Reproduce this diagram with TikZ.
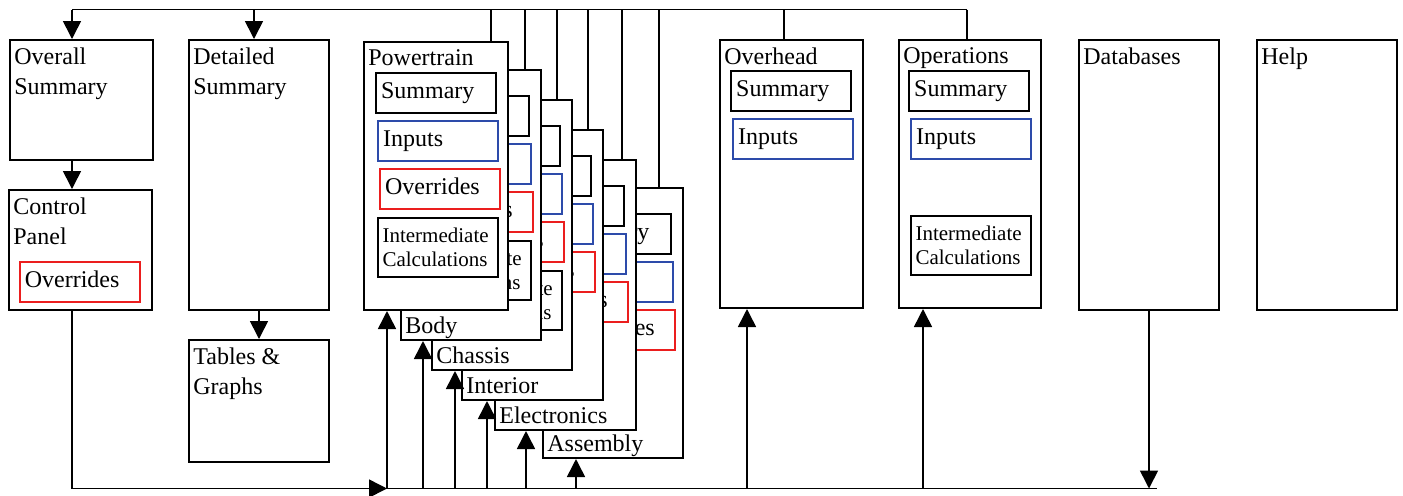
\documentclass[tikz,border=0pt]{standalone}
\usepackage{fontspec}
\setmainfont{Liberation Serif}
\usetikzlibrary{arrows.meta}
\definecolor{inblue}{RGB}{45,75,170}
\definecolor{ovred}{RGB}{235,30,30}
\tikzset{
  card/.style={draw, line width=1pt, fill=white, anchor=north west, inner sep=0pt, minimum height=135pt},
  ttl/.style={anchor=north west, align=left, inner xsep=2.5pt, inner ysep=4.3pt, font=\fontsize{12}{15}\selectfont},
  pbox/.style={draw, fill=white, line width=0.85pt, anchor=north east, text width=55pt, inner xsep=2.5pt, align=left},
  part/.style={pbox, minimum height=20pt, text height=8.5pt, text depth=2.7pt, font=\fontsize{12}{15}\selectfont},
  calcbox/.style={pbox, minimum height=29.5pt, inner xsep=2.2pt, text width=55.6pt, font=\fontsize{10.5}{12.3}\selectfont},
  flow/.style={line width=0.8pt, -{Triangle[width=9pt,length=9pt]}},
  wire/.style={line width=0.8pt}
}

\begin{document}
\begin{tikzpicture}[x=0.5pt,y=-0.5pt]
\useasboundingbox (0,0) rectangle (1403,495);

% summaries on the left
\node[card, minimum width=71.5pt, minimum height=60pt] (ovs) at (9,39) {};
\node[ttl] (ovs-t) at (ovs.north west) {Overall\\Summary};
\node[card, minimum width=71.5pt, minimum height=60pt] (ctl) at (8,189) {};
\node[ttl] (ctl-t) at (ctl.north west) {Control\\Panel};
\node[part, draw=ovred, anchor=north west] (ctl-ovr) at ([xshift=5.5pt,yshift=-36pt]ctl.north west) {Overrides};
\node[card, minimum width=70pt] (dts) at (188,39) {};
\node[ttl] (dts-t) at (dts.north west) {Detailed\\Summary};
\node[card, minimum width=70pt, minimum height=61pt] (tbl) at (188,339) {};
\node[ttl] (tbl-t) at (tbl.north west) {Tables \&\\Graphs};

% stacked system cards, back to front
\foreach \cn/\ct/\cx/\cy/\cw/\sx/\fx/\ci in {asm/Assembly/542/187/70/659/576/0,
    ele/Electronics/494/159/70.5/622/526/0, int/Interior/461/129/70.5/588/487/0,
    cha/Chassis/431/99/70/557/455/1, bod/Body/400/69/70/525/423/1}{
  \node[card, minimum width=\cw pt] (\cn) at (\cx,\cy) {};
  \node[part] (\cn-sum) at ([xshift=-6pt,yshift=-13pt]\cn.north east) {Summary};
  \node[part, draw=inblue] (\cn-inp) at ([xshift=-5pt,yshift=-37pt]\cn.north east) {Inputs};
  \node[part, draw=ovred] (\cn-ovr) at ([xshift=-4pt,yshift=-61pt]\cn.north east) {Overrides};
  \ifnum\ci=1
    \node[calcbox] (\cn-clc) at ([xshift=-5pt,yshift=-85.5pt]\cn.north east) {Intermediate\\Calculations};
  \fi
  \node[anchor=base west, inner sep=0pt, font=\fontsize{12}{15}\selectfont] (\cn-t) at ([xshift=2.5pt,yshift=3.7pt]\cn.south west) {\ct};
  \coordinate (\cn-top) at (\sx,9.5);
  \coordinate (\cn-bot) at (\fx,488.5);
  \draw[wire] (\cn-top) -- (\cn-top |- \cn.north);
  \draw[flow] (\cn-bot) -- (\cn-bot |- \cn.south);
}

\node[card, minimum width=72pt, minimum height=134pt] (pwt) at (363,41) {};
\node[ttl] (pwt-t) at (pwt.north west) {Powertrain};
\node[part] (pwt-sum) at ([xshift=-6pt,yshift=-15.5pt]pwt.north east) {Summary};
\node[part, draw=inblue] (pwt-inp) at ([xshift=-5pt,yshift=-39.5pt]pwt.north east) {Inputs};
\node[part, draw=ovred] (pwt-ovr) at ([xshift=-4pt,yshift=-63.5pt]pwt.north east) {Overrides};
\node[calcbox] (pwt-clc) at ([xshift=-5pt,yshift=-88pt]pwt.north east) {Intermediate\\Calculations};

% overhead, operations and the rest
\node[card, minimum width=71.5pt, minimum height=134pt] (ovh) at (719,39) {};
\node[ttl] (ovh-t) at (ovh.north west) {Overhead};
\node[part] (ovh-sum) at ([xshift=-6pt,yshift=-15.5pt]ovh.north east) {Summary};
\node[part, draw=inblue] (ovh-inp) at ([xshift=-5pt,yshift=-39.5pt]ovh.north east) {Inputs};
\node[card, minimum width=71pt, minimum height=134pt] (ops) at (898,39) {};
\node[ttl] (ops-t) at (ops.north west) {Operations};
\node[part] (ops-sum) at ([xshift=-6pt,yshift=-15.5pt]ops.north east) {Summary};
\node[part, draw=inblue] (ops-inp) at ([xshift=-5pt,yshift=-39.5pt]ops.north east) {Inputs};
\node[calcbox] (ops-clc) at ([xshift=-5pt,yshift=-88pt]ops.north east) {Intermediate\\Calculations};
\node[card, minimum width=70pt] (dbs) at (1078,39) {};
\node[ttl] (dbs-t) at (dbs.north west) {Databases};
\node[card, minimum width=70pt] (hlp) at (1256,39) {};
\node[ttl] (hlp-t) at (hlp.north west) {Help};

% top bus
\coordinate (tbus-l) at (72,9.5);
\coordinate (tbus-d) at (254,9.5);
\coordinate (tbus-r) at (967,9.5);
\coordinate (pwt-top) at (491,9.5);
\coordinate (ovh-top) at (784,9.5);
\draw[wire] (tbus-l) -- (tbus-r);
\draw[flow] (tbus-l) -- (tbus-l |- ovs.north);
\draw[flow] (tbus-d) -- (tbus-d |- dts.north);
\draw[flow] (tbus-l |- ovs.south) -- (tbus-l |- ctl.north);
\draw[flow] (dts.south) -- (tbl.north);
\draw[wire] (pwt-top) -- (pwt-top |- pwt.north);
\draw[wire] (ovh-top) -- (ovh-top |- ovh.north);
\draw[wire] (tbus-r) -- (tbus-r |- ops.north);

% bottom bus
\coordinate (bbus-l) at (387,488.5);
\coordinate (bbus-r) at (1157,488.5);
\coordinate (ovh-bot) at (747,488.5);
\coordinate (ops-bot) at (923,488.5);
\draw[flow] (tbus-l |- ctl.south) |- (bbus-l);
\draw[wire] (bbus-l) -- (bbus-r);
\draw[flow] (bbus-l) -- (bbus-l |- pwt.south);
\draw[flow] (ovh-bot) -- (ovh-bot |- ovh.south);
\draw[flow] (ops-bot) -- (ops-bot |- ops.south);
\draw[flow] (dbs.south) -- (dbs.south |- bbus-r);
\end{tikzpicture}
\end{document}
